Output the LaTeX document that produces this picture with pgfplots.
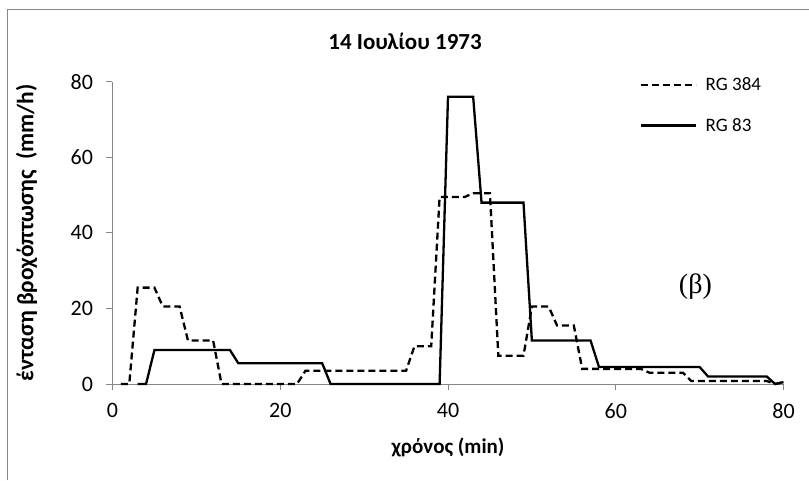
\documentclass[border=0pt]{standalone}
\usepackage{fontspec}
\setmainfont{Carlito}
\newfontfamily\tnr{Liberation Serif}
\usepackage{pgfplots}
\usepackage{pgfplotstable}
\pgfplotsset{compat=1.18}
\definecolor{axgray}{HTML}{868686}

\pgfplotstableread{
x y
1 0
2 0
3 25.5
5 25.5
6 20.5
8 20.5
9 11.5
12 11.5
13 0
22 0
23 3.5
35 3.5
36 10
38 10
39 49.5
42 49.5
43 50.5
45 50.5
46 7.5
49 7.5
50 20.5
52 20.5
53 15.5
55 15.5
56 4
63 4
64 3
68 3
69 0.8
78 0.8
79 0
80 0.5
}\rgA

\pgfplotstableread{
x y
3 0
4 0
5 9
14 9
15 5.5
25 5.5
26 0
39 0
40 76
43 76
44 48
49 48
50 11.5
57 11.5
58 4.5
70 4.5
71 2
78 2
79 0
80 0.5
}\rgB

\begin{document}
\begin{tikzpicture}[x=1pt,y=1pt]
\useasboundingbox (0,0) rectangle (809,480);
% chart-area frame (only top and left edges fall inside the picture)
\draw[axgray, line width=1pt] (7,0) -- (7,470) -- (809,470);

\begin{axis}[
  at={(112.5pt,96pt)}, anchor=south west,
  scale only axis, width=671pt, height=302.3pt,
  xmin=0, xmax=80, ymin=0, ymax=80,
  xtick={0,20,...,80}, ytick={0,20,...,80},
  axis lines*=left,
  axis line style={draw=axgray, line width=1pt},
  tick style={draw=axgray, line width=1pt},
  tick align=outside, major tick length=6pt,
  ticklabel style={font=\fontsize{22}{24}\selectfont},
  yticklabel style={xshift=-10pt},
  xticklabel style={yshift=-10pt},
  /pgf/number format/assume math mode=true,
  clip=false,
  title={14 Ιουλίου 1973},
  title style={font=\bfseries\fontsize{23}{26}\selectfont,
    at={(axis description cs:0.436,1.114)}, anchor=center},
  xlabel={χρόνος (min)},
  ylabel={ένταση βροχόπτωσης\ \ (mm/h)},
  every axis x label/.append style={at={(axis description cs:0.5,-0.21)}, anchor=center,
    font=\bfseries\fontsize{21}{23}\selectfont},
  every axis y label/.append style={at={(axis description cs:-0.128,0.5)}, anchor=center,
    font=\bfseries\fontsize{23.5}{25}\selectfont},
  legend style={draw=none, fill=none, at={(axis description cs:0.785,1.02)}, anchor=north west,
    font=\fontsize{19}{21}\selectfont, row sep=22pt, inner sep=0pt},
  legend cell align=left,
  legend image code/.code={\draw[#1] (0pt,0pt) -- (55pt,0pt);},
  legend style={nodes={inner xsep=9pt}},
]
\addplot[black, line width=2.3pt, dash pattern=on 7pt off 4pt] table[x=x,y=y] {\rgA};
\addlegendentry{RG 384}
\addplot[black, line width=2.3pt] table[x=x,y=y] {\rgB};
\addlegendentry{RG 83}
\node[font=\tnr\fontsize{28}{30}\selectfont] at (axis cs:69.5,25.7) {(β)};
\end{axis}
\end{tikzpicture}
\end{document}
